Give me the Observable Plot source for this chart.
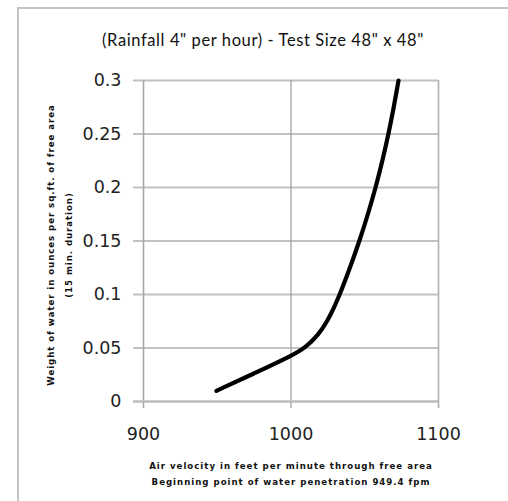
<!DOCTYPE html>
<html>
<head>
<meta charset="utf-8">
<script src="https://cdn.jsdelivr.net/npm/d3@7"></script>
<script src="https://cdn.jsdelivr.net/npm/@observablehq/plot@0.6"></script>
<style>
  html, body { margin: 0; padding: 0; background: #fff; overflow: hidden; }
  #wrap { position: relative; width: 508px; height: 501px; overflow: hidden; }
  #frame { position: absolute; left: 17px; top: 7px; width: 540px; height: 540px; border: 2px solid #c4c4c4; box-sizing: border-box; }
  #title { position: absolute; left: 0; top: 30px; width: 526px; text-align: center; font-family: Lato, sans-serif; font-size: 16.5px; letter-spacing: 0.6px; color: #111; white-space: nowrap; }
  #chart { position: absolute; left: 0; top: 60px; }
  .cap { position: absolute; left: 0; width: 582px; text-align: center; font-family: "DejaVu Sans", sans-serif; font-weight: bold; font-size: 8.6px; letter-spacing: 1px; color: #111; white-space: nowrap; }
</style>
</head>
<body>
<div id="wrap">
  <div id="frame"></div>
  <div id="title"></div>
  <div id="chart"></div>
  <div class="cap" id="cap1" style="top:461px"></div>
  <div class="cap" id="cap2" style="top:477px"></div>
</div>
<script>
const titleText = '(Rainfall 4" per hour) - Test Size 48" x 48"';
const xLabelLines = ["Air velocity in feet per minute through free area", "Beginning point of water penetration 949.4 fpm"];
const yLabel = "Weight of water in ounces per sq.ft. of free area\n(15 min. duration)";

const xTicks = [900, 1000, 1100];
const xTickLabels = ["900", "1000", "1100"];
const yTicks = [0, 0.05, 0.1, 0.15, 0.2, 0.25, 0.3];
const yTickLabels = ["0", "0.05", "0.1", "0.15", "0.2", "0.25", "0.3"];

const velocity = [949.4, 975, 1000, 1009.6, 1018.7, 1024.6, 1029.1, 1033.1, 1040.0, 1046.4, 1052.2, 1057.4, 1062.0, 1066.1, 1069.7, 1072.9];
const weight   = [0.010, 0.0262, 0.0425, 0.050, 0.0625, 0.075, 0.0875, 0.100, 0.125, 0.150, 0.175, 0.200, 0.225, 0.250, 0.275, 0.300];

const data = velocity.map((v, i) => ({x: v, y: weight[i]}));

document.getElementById("title").textContent = titleText;
document.getElementById("cap1").textContent = xLabelLines[0];
document.getElementById("cap2").textContent = xLabelLines[1];

const chart = Plot.plot({
  width: 508,
  height: 385,
  marginLeft: 143,
  marginRight: 70,
  marginTop: 20,
  marginBottom: 44,
  style: {fontFamily: "DejaVu Sans, sans-serif", fontSize: "17.5px", color: "#222", background: "transparent"},
  x: {domain: [900, 1100]},
  y: {domain: [0, 0.3]},
  marks: [
    Plot.ruleY(yTicks.filter(d => d !== 0), {stroke: "#c2c2c2", strokeWidth: 2.2, insetLeft: -10}),
    Plot.ruleX([1000], {stroke: "#9a9a9a", strokeWidth: 1.2, insetBottom: -7}),
    Plot.ruleX([1100], {stroke: "#b0b0b0", strokeWidth: 1.6, insetBottom: -7}),
    Plot.ruleX([900], {stroke: "#a8a8a8", strokeWidth: 1.6, insetBottom: -7}),
    Plot.ruleY([0], {stroke: "#bcbcbc", strokeWidth: 2.4, insetLeft: -10}),
    Plot.axisX(xTicks, {tickSize: 0, tickPadding: 26, tickFormat: d => xTickLabels[xTicks.indexOf(d)], label: null}),
    Plot.axisY(yTicks, {tickSize: 0, tickPadding: 22, tickFormat: d => yTickLabels[yTicks.indexOf(d)], label: null}),
    Plot.line(data, {x: "x", y: "y", curve: "basis", stroke: "#000", strokeWidth: 4.2, strokeLinecap: "round", strokeLinejoin: "round"}),
    Plot.text([yLabel], {frameAnchor: "left", textAnchor: "middle", dx: -86, dy: 4, rotate: -90, fontSize: 8.6, fontWeight: "bold", lineHeight: 2.0, fill: "#111"})
  ]
});
d3.select(chart).selectAll("text").filter(function() { return this.textContent.startsWith("Weight") || this.textContent.startsWith("(15"); }).style("letter-spacing", "0.95px");
document.getElementById("chart").appendChild(chart);
</script>
</body>
</html>
